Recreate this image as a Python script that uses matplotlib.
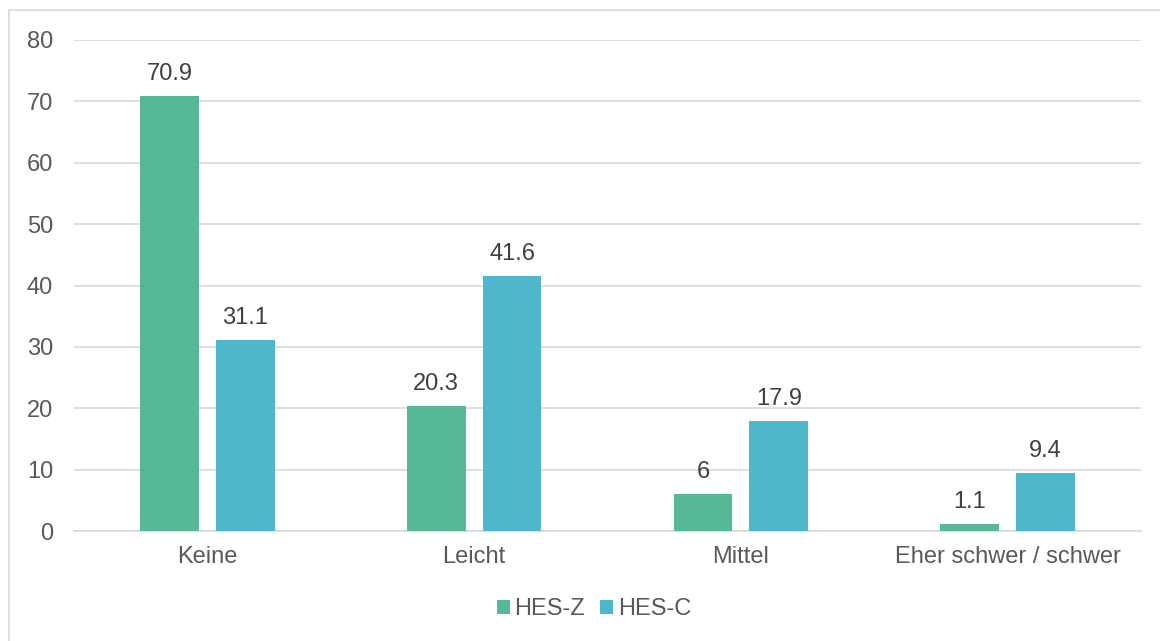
import matplotlib
matplotlib.use("Agg")
import matplotlib.pyplot as plt
import numpy as np
from matplotlib.patches import Rectangle

plt.rcParams["font.family"] = ["Liberation Sans", "DejaVu Sans"]

categories = ["Keine", "Leicht", "Mittel", "Eher schwer / schwer"]
hes_z = [70.9, 20.3, 6, 1.1]
hes_c = [31.1, 41.6, 17.9, 9.4]
labels_z = ["70.9", "20.3", "6", "1.1"]
labels_c = ["31.1", "41.6", "17.9", "9.4"]

green = "#55B995"
blue = "#4FB7CC"
txt = "#595959"
fs = 17

fig = plt.figure(figsize=(11.6, 6.41), dpi=100)
ax = fig.add_axes([74/1160, 1-531/641, (1141-74)/1160, (531-40)/641])

x = np.arange(len(categories))
w = 0.221
off = 0.142
bz = ax.bar(x - off, hes_z, w, color=green, label="HES-Z", zorder=3)
bc = ax.bar(x + off, hes_c, w, color=blue, label="HES-C", zorder=3)

for bars, labs in [(bz, labels_z), (bc, labels_c)]:
    for b, l in zip(bars, labs):
        ax.annotate(l, (b.get_x() + b.get_width()/2, b.get_height()),
                    xytext=(0, 8), textcoords="offset points",
                    ha="center", va="bottom", fontsize=fs, color="#404040")

ax.set_xlim(-0.5, len(categories) - 0.5)
ax.set_ylim(0, 80)
ax.set_yticks(range(0, 81, 10))
ax.set_xticks(x)
ax.set_xticklabels(categories)
ax.grid(axis="y", color="#D9D9D9", linewidth=1.2, zorder=0)
for s in ["top", "right", "left"]:
    ax.spines[s].set_visible(False)
ax.spines["bottom"].set_color("#D9D9D9")
ax.spines["bottom"].set_linewidth(1.2)
ax.tick_params(axis="both", length=0, labelsize=fs, colors=txt)
ax.tick_params(axis="x", pad=11)
ax.tick_params(axis="y", pad=15)

ax.legend(loc="center", bbox_to_anchor=(594/1160, 1-609/641), bbox_transform=fig.transFigure,
          ncol=2, frameon=False, fontsize=fs, labelcolor=txt,
          handlelength=0.55, handleheight=0.55, handletextpad=0.2, columnspacing=0.65)

fig.patches.append(Rectangle((9/1160, -0.1), 1.2, 1 - 10/641 + 0.1,
                             transform=fig.transFigure, fill=False,
                             edgecolor="#D9D9D9", linewidth=1.2))

fig.savefig("out.png", dpi=100, facecolor="white")
